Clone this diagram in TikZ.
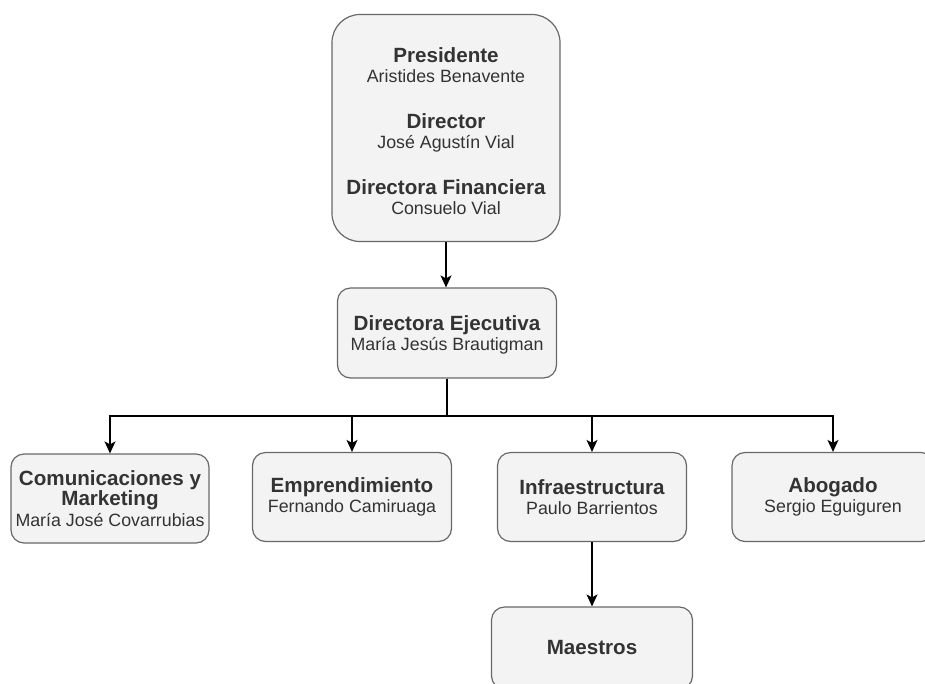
\documentclass[tikz,border=0pt]{standalone}
\usepackage{fontspec}
\setmainfont{Liberation Sans}
\usetikzlibrary{arrows.meta}
\definecolor{boxfill}{HTML}{F3F3F3}
\definecolor{boxline}{HTML}{686868}
\definecolor{inktext}{HTML}{333333}
\newcommand{\rolename}[1]{{\bfseries\fontsize{20.6}{20.5}\selectfont #1}}
\tikzset{
  unitbox/.style={draw=boxline, fill=boxfill, line width=1.2pt, rounded corners=13pt,
    align=center, text=inktext, inner sep=0pt,
    font=\fontsize{17.8}{20.5}\selectfont},
  link/.style={line width=1.4pt, draw=black,
    -{Stealth[length=12pt,width=11pt,inset=3pt]}}
}
\begin{document}
\begin{tikzpicture}[x=1pt,y=-1pt]
  \useasboundingbox (0,0) rectangle (925,683);
  \clip (0,0) rectangle (925,683);
  % board of directors
  \node[unitbox, rounded corners=28pt, minimum width=228pt, minimum height=227pt] (board) at (446,128)
    {\rule{0pt}{21pt}\rolename{Presidente}\\ Aristides Benavente\\[25pt]
     \rolename{Director}\\ José Agustín Vial\\[25pt]
     \rolename{Directora Financiera}\\ Consuelo Vial};
  % executive director
  \node[unitbox, minimum width=219pt, minimum height=90pt] (exec) at (447,333)
    {\rule{0pt}{19pt}\rolename{Directora Ejecutiva}\\ María Jesús Brautigman};
  % departments
  \node[unitbox, minimum width=198pt, minimum height=89pt] (com) at (110,498.5)
    {\rolename{Comunicaciones y}\\ \rolename{Marketing}\\ María José Covarrubias};
  \node[unitbox, minimum width=199pt, minimum height=89pt] (emp) at (352,497)
    {\rolename{Emprendimiento}\\ Fernando Camiruaga};
  \node[unitbox, minimum width=189pt, minimum height=89pt] (inf) at (592,497)
    {\rolename{Infraestructura}\\ Paulo Barrientos};
  \node[unitbox, minimum width=202pt, minimum height=89pt] (abo) at (833,497)
    {\rolename{Abogado}\\ Sergio Eguiguren};
  \node[unitbox, minimum width=201pt, minimum height=82pt] (mae) at (592,648)
    {\rolename{Maestros}};
  % connectors
  \coordinate (bus) at (0,416);
  \draw[link] (board.south) -- (board.south |- exec.north);
  \draw[link] (exec.south) -- (exec.south |- bus) -| (com.north);
  \draw[link] (exec.south) -- (exec.south |- bus) -| (emp.north);
  \draw[link] (exec.south) -- (exec.south |- bus) -| (inf.north);
  \draw[link] (exec.south) -- (exec.south |- bus) -| (abo.north);
  \draw[link] (inf.south) -- (inf.south |- mae.north);
\end{tikzpicture}
\end{document}
